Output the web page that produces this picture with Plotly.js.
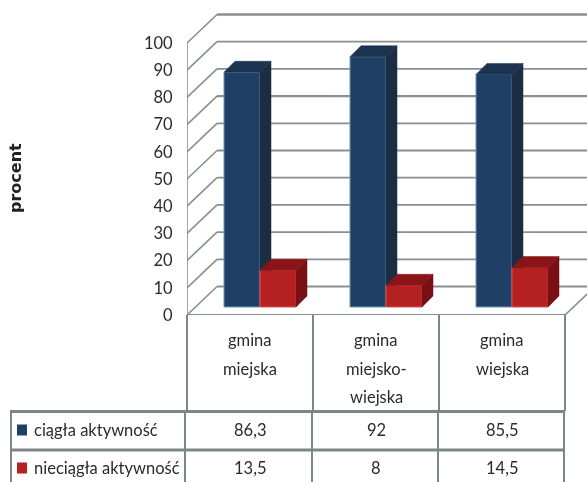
<!DOCTYPE html>
<html><head><meta charset="utf-8">
<script src="https://cdn.plot.ly/plotly-3.0.1.min.js"></script>
<style>html,body{margin:0;padding:0;background:#fff}#c{width:587px;height:482px;filter:blur(0.45px)}</style></head>
<body><div id="c"></div>
<script>
const categories = [['gmina','miejska'],['gmina','miejsko-','wiejska'],['gmina','wiejska']];
const seriesNames = ['ciągła aktywność','nieciągła aktywność'];
const ciagla = [86.3,92,85.5];
const nieciagla = [13.5,8,14.5];
const labelsCiagla = ['86,3','92','85,5'];
const labelsNieciagla = ['13,5','8','14,5'];
const yTicks = [0,10,20,30,40,50,60,70,80,90,100];

// geometry, in axis units
const W=587,H=482,L=187,T=0,B=167;
const xMax=(W-L)/126, yMax=(H-B-T)/2.72;
const wallDx=30/126, wallDy=28.5/2.72;
const barDx=11/126, barDy=11/2.72;
const baseY=8/2.72, barW=36/126, shift=10/126;
const xL=i=>i+0.5+shift-barW, xM=i=>i+0.5+shift, xR=i=>i+0.5+shift+barW;

const gridC='#87908f';
const grey='#7d8687';
const shapes=[];
const line=(x0,y0,x1,y1,c,w,ref)=>shapes.push({type:'line',layer:'below',xref:ref?'paper':'x',yref:ref?'paper':'y',x0,y0,x1,y1,line:{color:c,width:w}});
yTicks.forEach(v=>{
  line(0,v,wallDx,v+wallDy,gridC,1.6);
  line(wallDx,v+wallDy,xMax,v+wallDy,gridC,v===70?2.4:1.8);
});
line(wallDx,100+wallDy,xMax,100+wallDy,gridC,2);
line(0,0,0,100,gridC,1.6);
line(0,0,3,0,gridC,2);
line(3,0,3+wallDx,wallDy,gridC,1.6);

// table
const px=x=>(x-L)/(W-L), py=y=>(H-B-y)/(H-B-T);
const tl=(x0,y0,x1,y1,w)=>line(px(x0),py(y0),px(x1),py(y1),grey,w||2,true);
[187,313,439,565].forEach(x=>tl(x,315,x,411));
tl(10,411.5,565,411.5,3);
tl(10,450,565,450,3);
tl(11,410,11,482); tl(185,411,185,482); tl(312,411,312,482); tl(438,411,438,482); tl(564,411,564,482);
const key=(y,c)=>shapes.push({type:'rect',xref:'paper',yref:'paper',x0:px(17),x1:px(27),y0:py(y+5.5),y1:py(y-5.5),fillcolor:c,line:{width:0},layer:'above'});
key(430,'#1f3f66'); key(468,'#b52021');

const font={family:'Lato, "Open Sans", sans-serif',size:16.5,color:'#2b2b2b'};
const ann=[];
const text=(s,x,y,anchor,f)=>ann.push({text:s,xref:'paper',yref:'paper',x:px(x),y:py(y),xanchor:anchor||'center',yanchor:'middle',showarrow:false,font:f||font});
const cols=[250,376,502];
categories.forEach((c,i)=>c.forEach((s,j)=>text(s,cols[i],340+j*28.5)));
labelsCiagla.forEach((s,i)=>text(s,cols[i],430));
labelsNieciagla.forEach((s,i)=>text(s,cols[i],467.5));
text(seriesNames[0],32,430,'left');
text(seriesNames[1],32,467.5,'left');
ann.push({text:'<b>procent</b>',xref:'paper',yref:'paper',x:px(15),y:py(178),xanchor:'center',yanchor:'middle',showarrow:false,textangle:-90,font:{family:'"DejaVu Sans", sans-serif',size:16,color:'#222'}});

const poly=(xs,ys,c)=>({type:'scatter',mode:'lines',x:[...xs,xs[0]],y:[...ys,ys[0]],fill:'toself',fillcolor:c,line:{color:c,width:0.5},hoverinfo:'skip',showlegend:false});
const idx=[0,1,2];
const tops=v=>v+baseY;
const traces=[];
traces.push({type:'bar',name:seriesNames[0],x:idx.map(i=>xL(i)+barW/2),y:ciagla,base:idx.map(()=>baseY),width:barW,marker:{color:'#1f3f66',line:{color:'#6d97b4',width:1}}});
traces.push({type:'bar',name:seriesNames[1],x:idx.map(i=>xM(i)+barW/2),y:nieciagla,base:idx.map(()=>baseY),width:barW,marker:{color:'#b52021',line:{color:'#d9504e',width:1}}});
idx.forEach(i=>{
  const t=tops(ciagla[i]), r=tops(nieciagla[i]);
  traces.push(poly([xL(i),xM(i),xM(i)+barDx,xL(i)+barDx],[t,t,t+barDy,t+barDy],'#1b3350'));
  traces.push(poly([xM(i),xM(i)+barDx,xM(i)+barDx,xM(i)],[t,t+barDy,r,r],'#1a2d42'));
  traces.push(poly([xM(i),xR(i),xR(i)+barDx,xM(i)+barDx],[r,r,r+barDy,r+barDy],'#8a1418'));
  traces.push(poly([xR(i),xR(i)+barDx,xR(i)+barDx,xR(i)],[r,r+barDy,baseY+barDy,baseY],'#7a0f14'));
});

Plotly.newPlot('c',traces,{
  width:W,height:H,margin:{l:L,r:0,t:T,b:B,pad:0},
  paper_bgcolor:'#fff',plot_bgcolor:'#fff',showlegend:false,barmode:'overlay',
  xaxis:{range:[0,xMax],showgrid:false,zeroline:false,showline:false,showticklabels:false,ticks:''},
  yaxis:{range:[0,yMax],tickmode:'array',tickvals:yTicks,ticktext:yTicks.map(String),showgrid:false,zeroline:false,showline:false,
    ticks:'outside',ticklen:10,tickcolor:'rgba(0,0,0,0)',tickfont:font},
  shapes,annotations:ann
},{displayModeBar:false,staticPlot:true});
</script></body></html>
